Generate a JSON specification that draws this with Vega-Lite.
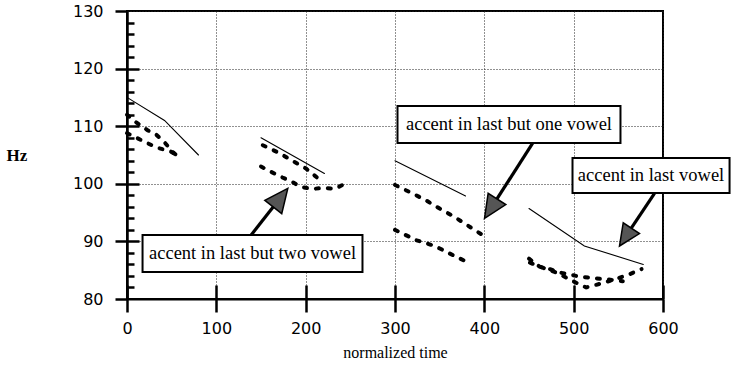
{
  "$schema": "https://vega.github.io/schema/vega-lite/v6.json",
  "width": 536,
  "height": 288,
  "autosize": "none",
  "padding": {"left": 127, "top": 11, "right": 69, "bottom": 72},
  "background": "white",
  "config": {
    "view": {"stroke": "black", "strokeWidth": 2},
    "axis": {
      "domainColor": "black",
      "tickColor": "black",
      "labelColor": "black",
      "titleColor": "black",
      "labelFont": "DejaVu Sans",
      "labelFontSize": 16,
      "gridColor": "#222",
      "gridDash": [1, 2],
      "gridWidth": 1
    }
  },
  "resolve": {"axis": {"x": "independent", "y": "independent"}},
  "datasets": {
    "series": [
      {"series": "S1", "kind": "solid", "t": 0, "hz": 115},
      {"series": "S1", "kind": "solid", "t": 42, "hz": 111},
      {"series": "S1", "kind": "solid", "t": 80, "hz": 105},
      {"series": "A1", "kind": "dashed", "t": 0, "hz": 112},
      {"series": "A1", "kind": "dashed", "t": 10, "hz": 110.7},
      {"series": "A1", "kind": "dashed", "t": 23, "hz": 109.3},
      {"series": "A1", "kind": "dashed", "t": 33, "hz": 108.5},
      {"series": "A1", "kind": "dashed", "t": 42, "hz": 107.2},
      {"series": "A1", "kind": "dashed", "t": 52, "hz": 105.4},
      {"series": "A1", "kind": "dashed", "t": 62, "hz": 104.2},
      {"series": "B1", "kind": "dashed", "t": 0, "hz": 108.8},
      {"series": "B1", "kind": "dashed", "t": 17, "hz": 107.5},
      {"series": "B1", "kind": "dashed", "t": 33, "hz": 106.3},
      {"series": "B1", "kind": "dashed", "t": 49, "hz": 105.6},
      {"series": "B1", "kind": "dashed", "t": 60, "hz": 104.6},
      {"series": "S2", "kind": "solid", "t": 150, "hz": 108},
      {"series": "S2", "kind": "solid", "t": 221, "hz": 101.8},
      {"series": "A2", "kind": "dashed", "t": 152, "hz": 106.7},
      {"series": "A2", "kind": "dashed", "t": 171, "hz": 105.3},
      {"series": "A2", "kind": "dashed", "t": 184, "hz": 104.1},
      {"series": "A2", "kind": "dashed", "t": 200, "hz": 102.7},
      {"series": "A2", "kind": "dashed", "t": 215, "hz": 100.8},
      {"series": "A2", "kind": "dashed", "t": 219, "hz": 100.2},
      {"series": "B2", "kind": "dashed", "t": 150, "hz": 103},
      {"series": "B2", "kind": "dashed", "t": 161, "hz": 102.1},
      {"series": "B2", "kind": "dashed", "t": 174, "hz": 101.1},
      {"series": "B2", "kind": "dashed", "t": 184, "hz": 100.4},
      {"series": "B2", "kind": "dashed", "t": 194, "hz": 99.5},
      {"series": "B2", "kind": "dashed", "t": 207, "hz": 99.1},
      {"series": "B2", "kind": "dashed", "t": 221, "hz": 99.3},
      {"series": "B2", "kind": "dashed", "t": 232, "hz": 99.1},
      {"series": "B2", "kind": "dashed", "t": 244, "hz": 100},
      {"series": "B2", "kind": "dashed", "t": 250, "hz": 100.2},
      {"series": "S3", "kind": "solid", "t": 300, "hz": 104},
      {"series": "S3", "kind": "solid", "t": 379, "hz": 97.9},
      {"series": "A3", "kind": "dashed", "t": 300, "hz": 99.8},
      {"series": "A3", "kind": "dashed", "t": 320, "hz": 98.3},
      {"series": "A3", "kind": "dashed", "t": 335, "hz": 97.1},
      {"series": "A3", "kind": "dashed", "t": 350, "hz": 95.7},
      {"series": "A3", "kind": "dashed", "t": 365, "hz": 94.4},
      {"series": "A3", "kind": "dashed", "t": 381, "hz": 92.8},
      {"series": "A3", "kind": "dashed", "t": 397, "hz": 91.2},
      {"series": "B3", "kind": "dashed", "t": 300, "hz": 92},
      {"series": "B3", "kind": "dashed", "t": 312, "hz": 91.1},
      {"series": "B3", "kind": "dashed", "t": 324, "hz": 90.2},
      {"series": "B3", "kind": "dashed", "t": 335, "hz": 89.7},
      {"series": "B3", "kind": "dashed", "t": 346, "hz": 89.1},
      {"series": "B3", "kind": "dashed", "t": 365, "hz": 87.6},
      {"series": "B3", "kind": "dashed", "t": 385, "hz": 86.1},
      {"series": "S4", "kind": "solid", "t": 450, "hz": 95.7},
      {"series": "S4", "kind": "solid", "t": 512, "hz": 89.2},
      {"series": "S4", "kind": "solid", "t": 578, "hz": 86},
      {"series": "A4", "kind": "dashed", "t": 450, "hz": 87},
      {"series": "A4", "kind": "dashed", "t": 462, "hz": 85.6},
      {"series": "A4", "kind": "dashed", "t": 473, "hz": 85.2},
      {"series": "A4", "kind": "dashed", "t": 484, "hz": 84.6},
      {"series": "A4", "kind": "dashed", "t": 494, "hz": 84.3},
      {"series": "A4", "kind": "dashed", "t": 506, "hz": 83.9},
      {"series": "A4", "kind": "dashed", "t": 523, "hz": 83.6},
      {"series": "A4", "kind": "dashed", "t": 544, "hz": 83.3},
      {"series": "A4", "kind": "dashed", "t": 555, "hz": 83.1},
      {"series": "B4", "kind": "dashed", "t": 451, "hz": 86.3},
      {"series": "B4", "kind": "dashed", "t": 466, "hz": 85.4},
      {"series": "B4", "kind": "dashed", "t": 482, "hz": 84.5},
      {"series": "B4", "kind": "dashed", "t": 499, "hz": 83.1},
      {"series": "B4", "kind": "dashed", "t": 514, "hz": 82.0},
      {"series": "B4", "kind": "dashed", "t": 531, "hz": 82.7},
      {"series": "B4", "kind": "dashed", "t": 546, "hz": 83.4},
      {"series": "B4", "kind": "dashed", "t": 561, "hz": 84.2},
      {"series": "B4", "kind": "dashed", "t": 576, "hz": 85.2}
    ],
    "boxes": [
      {"label": "accent in last but two vowel", "x1": 17.4, "x2": 263.6, "y1": 91.1, "y2": 84.7, "tx": 140.5, "ty": 87.9},
      {"label": "accent in last but one vowel", "x1": 302.8, "x2": 552.4, "y1": 113.5, "y2": 107.1, "tx": 427.6, "ty": 110.3},
      {"label": "accent in last vowel", "x1": 498.7, "x2": 674.5, "y1": 104.5, "y2": 98.4, "tx": 586.6, "ty": 101.45}
    ],
    "arrows": [
      {"id": 1, "x1": 139.0, "y1": 91.1, "x2": 171.7, "y2": 97.57, "tipx": 180.0, "tipy": 99.2},
      {"id": 2, "x1": 454.3, "y1": 107.1, "x2": 407.5, "y2": 95.77, "tipx": 400.2, "tipy": 94.0},
      {"id": 3, "x1": 590.5, "y1": 98.35, "x2": 558.7, "y2": 90.94, "tipx": 551.3, "tipy": 89.2}
    ]
  },
  "layer": [
    {
      "data": {"name": "series"},
      "transform": [{"filter": "datum.kind === 'solid'"}],
      "mark": {"type": "line", "color": "black", "strokeWidth": 1.1, "strokeCap": "round"},
      "encoding": {
        "x": {
          "field": "t", "type": "quantitative",
          "scale": {"domain": [0, 600], "nice": false, "zero": false},
          "axis": {
            "orient": "bottom", "values": [0, 100, 200, 300, 400, 500, 600],
            "tickSize": 13, "tickWidth": 2.5, "domainWidth": 2, "labelPadding": 8,
            "grid": true, "labelFlush": false,
            "title": "normalized time", "titleFont": "Liberation Serif", "titleFontWeight": "normal",
            "titleFontSize": 16, "titleY": 58, "titleBaseline": "alphabetic"
          }
        },
        "y": {
          "field": "hz", "type": "quantitative",
          "scale": {"domain": [80, 130], "nice": false, "zero": false},
          "axis": {
            "orient": "left", "values": [80, 90, 100, 110, 120, 130],
            "tickSize": 12, "tickWidth": 2.5, "domainWidth": 2.5, "labelPadding": 12,
            "grid": true, "labelFlush": false,
            "title": "Hz", "titleAngle": 0, "titleFont": "Liberation Serif", "titleFontWeight": "bold",
            "titleFontSize": 17, "titleX": -121, "titleY": 144, "titleAlign": "left", "titleBaseline": "middle"
          }
        },
        "detail": {"field": "series"}
      }
    },
    {
      "data": {"name": "series"},
      "transform": [{"filter": "datum.kind === 'dashed'"}],
      "mark": {"type": "line", "color": "black", "strokeWidth": 4, "strokeCap": "round", "strokeDash": [3, 9]},
      "encoding": {
        "x": {
          "field": "t", "type": "quantitative",
          "axis": {
            "orient": "bottom", "values": [0, 100, 200, 300, 400, 500, 600],
            "tickSize": -14, "tickWidth": 2.5, "labels": false, "domain": false, "grid": false, "title": null
          }
        },
        "y": {
          "field": "hz", "type": "quantitative",
          "axis": {
            "orient": "left",
            "values": [82, 84, 86, 88, 92, 94, 96, 98, 102, 104, 106, 108, 112, 114, 116, 118, 122, 124, 126, 128],
            "tickSize": -7, "tickWidth": 2.5, "labels": false, "domain": false, "grid": false, "title": null
          }
        },
        "detail": {"field": "series"}
      }
    },
    {
      "data": {"name": "boxes"},
      "mark": {"type": "rect", "fill": "white", "stroke": "black", "strokeWidth": 2},
      "encoding": {
        "x": {"field": "x1", "type": "quantitative", "axis": null},
        "x2": {"field": "x2"},
        "y": {
          "field": "y1", "type": "quantitative",
          "axis": {
            "orient": "left", "values": [90, 100, 110, 120],
            "tickSize": -12, "tickWidth": 2.5, "labels": false, "domain": false, "grid": false, "title": null
          }
        },
        "y2": {"field": "y2"}
      }
    },
    {
      "data": {"name": "boxes"},
      "mark": {"type": "text", "font": "Liberation Serif", "fontSize": 18.5, "color": "black", "align": "center", "baseline": "middle"},
      "encoding": {
        "x": {"field": "tx", "type": "quantitative", "axis": null},
        "y": {"field": "ty", "type": "quantitative", "axis": null},
        "text": {"field": "label"}
      }
    },
    {
      "data": {"name": "arrows"},
      "mark": {"type": "rule", "color": "black", "strokeWidth": 3.2},
      "encoding": {
        "x": {"field": "x1", "type": "quantitative", "axis": null},
        "y": {"field": "y1", "type": "quantitative", "axis": null},
        "x2": {"field": "x2"},
        "y2": {"field": "y2"}
      }
    },
    {
      "data": {"name": "arrows"},
      "transform": [{"filter": "datum.id === 1"}],
      "mark": {"type": "point", "shape": "M0,0L-1,2.2L1,2.2Z", "size": 460, "filled": true, "fill": "#555", "stroke": "black", "strokeWidth": 1.5, "opacity": 1, "angle": 38},
      "encoding": {
        "x": {"field": "tipx", "type": "quantitative", "axis": null},
        "y": {"field": "tipy", "type": "quantitative", "axis": null}
      }
    },
    {
      "data": {"name": "arrows"},
      "transform": [{"filter": "datum.id === 2"}],
      "mark": {"type": "point", "shape": "M0,0L-1,2.2L1,2.2Z", "size": 440, "filled": true, "fill": "#555", "stroke": "black", "strokeWidth": 1.5, "opacity": 1, "angle": 212.7},
      "encoding": {
        "x": {"field": "tipx", "type": "quantitative", "axis": null},
        "y": {"field": "tipy", "type": "quantitative", "axis": null}
      }
    },
    {
      "data": {"name": "arrows"},
      "transform": [{"filter": "datum.id === 3"}],
      "mark": {"type": "point", "shape": "M0,0L-1,2.2L1,2.2Z", "size": 380, "filled": true, "fill": "#555", "stroke": "black", "strokeWidth": 1.5, "opacity": 1, "angle": 213.6},
      "encoding": {
        "x": {"field": "tipx", "type": "quantitative", "axis": null},
        "y": {"field": "tipy", "type": "quantitative", "axis": null}
      }
    }
  ]
}
